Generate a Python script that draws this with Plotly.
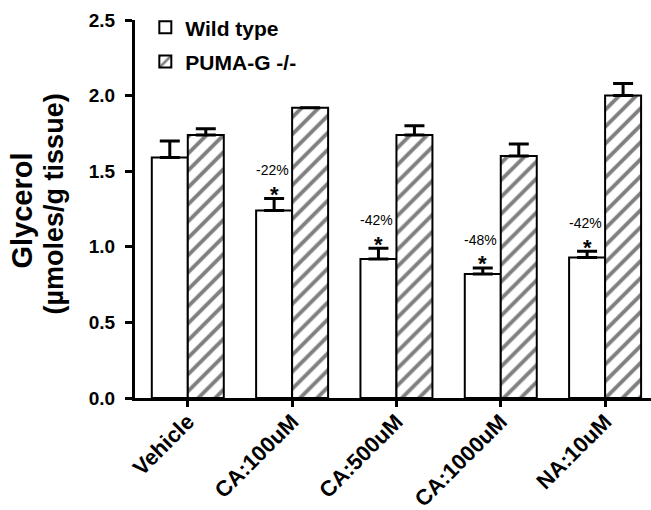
import plotly.graph_objects as go

categories = ["Vehicle", "CA:100uM", "CA:500uM", "CA:1000uM", "NA:10uM"]
wild_type = [1.59, 1.24, 0.92, 0.82, 0.93]
wild_type_err = [0.11, 0.08, 0.07, 0.04, 0.04]
puma_g = [1.74, 1.92, 1.74, 1.60, 2.00]
puma_g_err = [0.04, 0.0, 0.06, 0.08, 0.08]
change_labels = ["", "-22%", "-42%", "-48%", "-42%"]
significant = [False, True, True, True, True]
y_ticks = [0.0, 0.5, 1.0, 1.5, 2.0, 2.5]

FONT = "Liberation Sans, Arial, sans-serif"
BARGAP = 0.31

fig = go.Figure()
fig.add_trace(go.Bar(
    name="Wild type", x=categories, y=wild_type, legendgroup="wt",
    marker=dict(color="white", line=dict(color="black", width=2)),
    error_y=dict(type="data", array=wild_type_err, arrayminus=[0] * len(wild_type),
                 symmetric=False, color="black", thickness=3, width=10),
))
fig.add_trace(go.Bar(
    name="PUMA-G -/-", x=categories, y=puma_g, legendgroup="ko",
    marker=dict(color="white", line=dict(color="black", width=2),
                pattern=dict(shape="/", fgcolor="black", bgcolor="white",
                             size=12, solidity=0.32)),
    error_y=dict(type="data", array=puma_g_err, arrayminus=[0] * len(puma_g),
                 symmetric=False, color="black", thickness=3, width=10),
))

# significance markers over the wild-type bars
bar_w = (1 - BARGAP) / 2
annotations = []
for i, cat in enumerate(categories):
    if not significant[i]:
        continue
    cap = wild_type[i] + wild_type_err[i]
    xc = i - bar_w / 2
    annotations.append(dict(x=xc, y=cap, xref="x", yref="y", text="<b>*</b>",
                            showarrow=False, yanchor="middle", yshift=4,
                            font=dict(family=FONT, size=22, color="black")))
    annotations.append(dict(x=xc - 0.02, y=cap, xref="x", yref="y", text=change_labels[i],
                            showarrow=False, yanchor="middle", yshift=28,
                            font=dict(family=FONT, size=14, color="black")))

# y-axis title (two lines)
annotations.append(dict(x=-0.2209, y=0.496, xref="paper", yref="paper", text="<b>Glycerol</b>",
                        textangle=-90, showarrow=False, xanchor="center", yanchor="middle",
                        font=dict(family=FONT, size=29, color="black")))
annotations.append(dict(x=-0.157, y=0.5146, xref="paper", yref="paper",
                        text="<b>(µmoles/g tissue)</b>",
                        textangle=-90, showarrow=False, xanchor="center", yanchor="middle",
                        font=dict(family=FONT, size=27, color="black")))

fig.update_layout(
    width=651, height=510,
    margin=dict(l=135, r=0, t=20, b=112, pad=0),
    paper_bgcolor="white", plot_bgcolor="white",
    barmode="group", bargap=BARGAP, bargroupgap=0,
    showlegend=True,
    legend=dict(x=0.02, y=1.034, xanchor="left", yanchor="top",
                font=dict(family=FONT, size=21, color="black", weight="bold"),
                bgcolor="rgba(0,0,0,0)", tracegroupgap=4),
    xaxis=dict(type="category", range=[-0.506, 4.44], showline=True, linecolor="black",
               linewidth=3, ticks="outside", ticklen=6, tickwidth=2.5, tickcolor="black",
               tickangle=-45, showgrid=False, zeroline=False, automargin=False,
               ticklabelstandoff=-7,
               tickfont=dict(family=FONT, size=22, color="black", weight="bold")),
    yaxis=dict(range=[0, 2.5], tickvals=y_ticks, ticktext=[f"{v:.1f}" for v in y_ticks],
               showline=True, linecolor="black", linewidth=3, ticks="outside", ticklen=7,
               tickwidth=2.5, tickcolor="black", showgrid=False, zeroline=False,
               automargin=False, ticklabelstandoff=6,
               tickfont=dict(family=FONT, size=19, color="black", weight="bold")),
    annotations=annotations,
)

fig.write_html("out.html", config={"displayModeBar": False},
               post_script="document.body.style.margin='0';")
